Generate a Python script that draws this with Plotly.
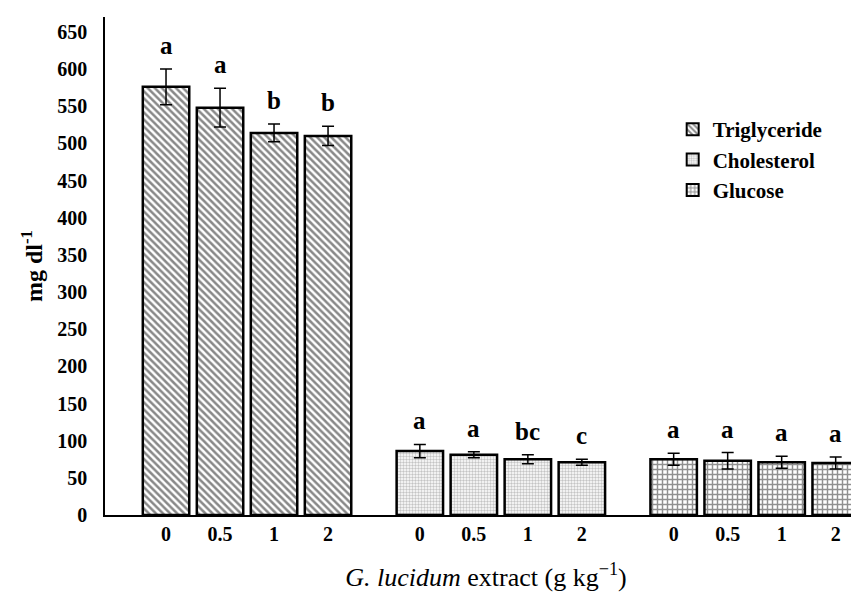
import plotly.graph_objects as go

doses = ["0", "0.5", "1", "2"]
series_names = ["Triglyceride", "Cholesterol", "Glucose"]
triglyceride = [576, 548, 514, 510]
triglyceride_err = [24, 26, 12, 13]
cholesterol = [86, 81, 75, 71]
cholesterol_err = [9, 4, 6, 4]
glucose = [75, 73, 71, 70]
glucose_err = [8, 11, 8, 8]
tri_letters = ["a", "a", "b", "b"]
chol_letters = ["a", "a", "bc", "c"]
glu_letters = ["a", "a", "a", "a"]

values = [triglyceride, cholesterol, glucose]
errors = [triglyceride_err, cholesterol_err, glucose_err]
letters = [tri_letters, chol_letters, glu_letters]

group_step = 4.7
patterns = [
    dict(shape="\\", size=5, solidity=0.5, fgcolor="#111111", bgcolor="white", fillmode="overlay"),
    dict(shape=".", size=3, solidity=0.5, fgcolor="#8a8a8a", bgcolor="white", fillmode="overlay"),
    dict(shape="+", size=5, solidity=0.5, fgcolor="#222222", bgcolor="white", fillmode="overlay"),
]

font_family = "Liberation Serif"
fig = go.Figure()
tickvals, ticktext = [], []
for g, name in enumerate(series_names):
    xs = [g * group_step + i for i in range(len(doses))]
    tickvals += xs
    ticktext += [f"<b>{d}</b>" for d in doses]
    fig.add_trace(go.Bar(
        x=xs, y=values[g], name=f"<b>{name}</b>", width=0.86,
        marker=dict(color="white", line=dict(color="black", width=2.5), pattern=patterns[g]),
        error_y=dict(type="data", array=errors[g], color="black", thickness=1.5, width=6),
    ))
    for x, v, e, t in zip(xs, values[g], errors[g], letters[g]):
        fig.add_annotation(x=x, y=v + e, text=f"<b>{t}</b>", showarrow=False,
                           yanchor="bottom", yshift=8,
                           font=dict(family=font_family, size=25, color="black"))

fig.update_layout(
    width=859, height=593,
    margin=dict(l=97, r=0, t=9, b=86),
    plot_bgcolor="white", paper_bgcolor="white",
    font=dict(family=font_family, color="black"),
    showlegend=True, barmode="overlay",
    legend=dict(x=0.745, y=0.815, xanchor="left", yanchor="top",
                font=dict(family=font_family, size=21, color="black"),
                bgcolor="rgba(0,0,0,0)", tracegroupgap=0, itemsizing="constant"),
    xaxis=dict(range=[-1.13, 12.98], tickvals=tickvals, ticktext=ticktext,
               showline=True, linecolor="black", linewidth=1.5, showgrid=False,
               zeroline=False, ticks="", tickfont=dict(family=font_family, size=20, color="black"),
               title=dict(text="<i>G. lucidum</i> extract (g kg<sup>\u22121</sup>)",
                          font=dict(family=font_family, size=26, color="black"), standoff=24)),
    yaxis=dict(range=[0, 670], tickvals=list(range(0, 651, 50)),
               ticktext=[f"<b>{v}</b>" for v in range(0, 651, 50)],
               showline=True, linecolor="black", linewidth=1.5, showgrid=False,
               zeroline=False, ticks="", ticklabelstandoff=12,
               tickfont=dict(family=font_family, size=20, color="black"),
               title=dict(text="<b>mg dl<sup>-1</sup></b>",
                          font=dict(family=font_family, size=24, color="black"), standoff=8)),
)

fig.write_html("out.html")
